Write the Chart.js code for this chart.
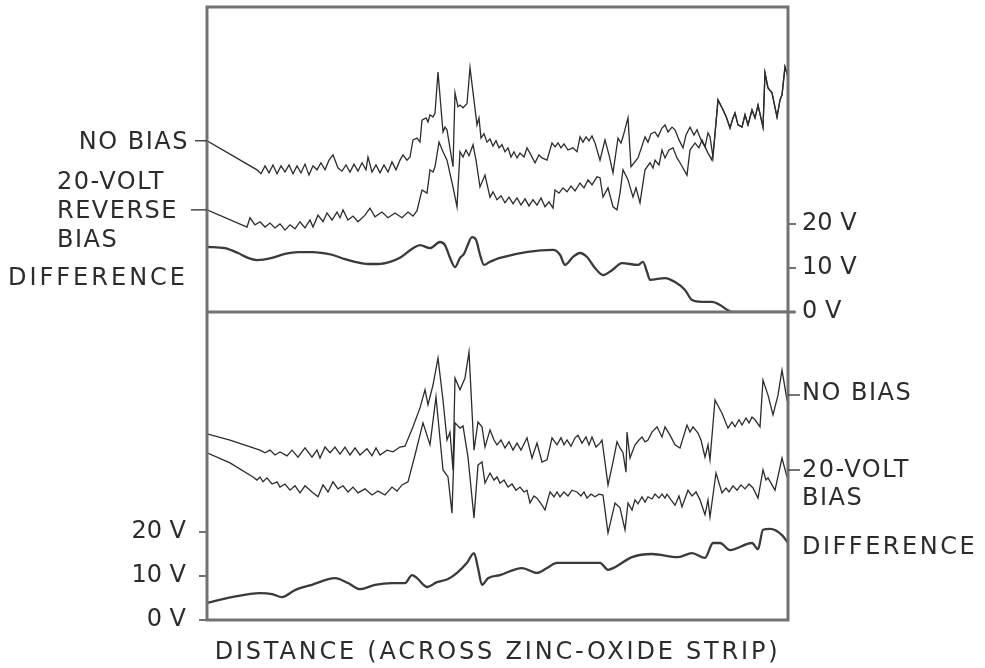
<!DOCTYPE html>
<html>
<head>
<meta charset="utf-8">
<script src="https://cdn.jsdelivr.net/npm/chart.js@4.4.1/dist/chart.umd.min.js"></script>
<style>
  html, body { margin: 0; padding: 0; background: #fff; }
  #wrap { width: 985px; height: 668px; }
</style>
</head>
<body>
<div id="wrap"><canvas id="scan" width="985" height="668"></canvas></div>
<script>
// --- data: [distance (mm), volts] ---

// upper panel (0 V on the divider)
const topNoBias = [[0,38.9],[5.0,32.3],[5.4,31.4],[5.8,33.2],[6.2,31.6],[6.6,33.4],[7.0,31.4],[7.4,33.2],[7.8,31.8],[8.2,33.4],[8.6,31.4],[9.0,33.2],[9.4,31.6],[9.8,33.6],[10.2,31.1],[10.6,33.2],[11.0,32.3],[11.4,33.9],[11.8,32.3],[12.2,34.5],[12.6,35.7],[13.1,32.7],[13.5,32.0],[13.9,33.4],[14.3,31.8],[14.7,33.6],[15.1,32.0],[15.5,33.9],[15.9,32.3],[16.1,35.2],[16.5,31.8],[16.9,33.4],[17.3,31.6],[17.7,33.4],[18.1,31.8],[18.5,34.1],[18.9,32.3],[19.3,34.5],
  [19.6,35.7],[20.0,34.5],[20.3,35.2],[20.6,39.1],[21.0,39.5],[21.3,38.6],[21.5,43.6],[21.9,44.1],[22.1,43.2],[22.3,44.8],[22.6,44.3],[22.8,45.2],[23.1,54.5],[23.6,40.9],[23.8,42.0],[24.0,41.4],[24.6,33.0],[24.8,49.8],[25.1,46.6],[25.3,47.0],[25.6,46.4],[26.0,47.3],[26.3,55.5],[27.0,42.5],[27.2,44.1],[27.4,39.5],[27.7,40.5],[28.0,38.6],[28.3,39.3],[28.6,37.7],[28.9,38.9],[29.2,37.3],[29.5,38.0],[29.8,36.4],[30.1,37.3],[30.4,35.2],[30.7,36.4],[31.0,35.0],[31.3,36.1],[31.7,35.2],[32.0,37.3],[32.3,36.1],[32.8,33.9],[33.2,35.7],[33.5,35.0],[34.0,34.5],[34.5,38.4],[34.8,37.5],[35.1,38.4],[35.4,37.3],[35.7,38.2],[36.1,36.8],[36.6,37.3],[37.0,36.4],[37.3,39.8],[37.6,38.6],[37.9,39.8],[38.2,38.9],[38.5,40.0],[38.8,38.4],
  [39.3,34.5],[39.8,39.1],[40.2,35.7],[40.6,31.6],[41.1,39.5],[41.4,38.4],[41.6,39.8],[42.1,44.1],[42.4,33.0],[43.1,35.0],[43.5,37.7],[43.8,39.8],[44.1,38.6],[44.4,40.5],[44.8,40.9],[45.1,39.8],[45.5,41.8],[45.8,42.5],[46.1,40.9],[46.5,42.0],[46.8,41.4],[47.2,39.1],[47.6,37.3],[47.9,40.2],[48.3,42.0],[48.7,40.2],[49.0,41.4],[49.4,39.1],[49.8,37.5],[50.1,40.7],[50.3,39.8],[50.6,35.2]];

const topReverse = [[0,23.2],[4.0,19.3],[4.3,21.4],[4.8,19.8],[5.3,20.5],[5.8,19.3],[6.3,20.2],[6.8,19.1],[7.3,20.0],[7.8,18.6],[8.3,19.8],[8.8,18.9],[9.3,20.5],[9.8,19.1],[10.3,20.9],[10.6,19.3],[11.1,22.0],[11.6,20.5],[12.0,22.5],[12.5,20.9],[13.0,22.7],[13.3,21.4],[13.6,23.2],[14.1,20.9],[14.6,21.8],[15.1,20.5],[15.8,22.0],[16.3,23.6],[16.8,21.6],[17.5,22.7],[18.1,21.4],[18.8,22.5],[19.5,21.4],[20.1,22.7],[20.6,21.8],[21.0,23.0],
  [21.5,27.7],[22.0,27.0],[22.3,32.3],[22.6,31.8],[22.8,33.0],[23.2,38.6],[23.6,36.4],[24.0,34.5],[24.6,28.4],[25.0,23.9],[25.3,36.4],[25.6,35.2],[25.9,36.8],[26.2,35.5],[26.6,38.0],[26.9,34.5],[27.3,28.4],[27.8,31.1],[28.3,26.1],[28.6,27.3],[29.0,25.5],[29.4,26.4],[29.8,24.8],[30.2,26.1],[30.6,24.6],[31.0,25.9],[31.4,24.3],[31.8,25.7],[32.2,24.1],[32.6,25.5],[33.0,24.3],[33.4,25.9],[33.8,23.9],[34.2,25.0],[34.6,23.6],
  [34.8,27.7],[35.2,27.0],[35.6,28.2],[36.0,27.3],[36.4,28.6],[36.8,27.5],[37.3,29.3],[37.7,28.2],[38.1,30.0],[38.5,28.9],[39.0,30.7],[39.3,30.5],[39.6,26.1],[40.1,28.2],[40.6,23.9],[41.0,23.2],[41.3,27.0],[41.6,32.3],[42.1,30.0],[42.6,26.1],[42.9,28.2],[43.3,24.8],[43.8,32.3],[44.3,33.9],[44.6,32.7],[44.8,34.5],[45.2,33.4],[45.5,36.8],[45.8,35.0],[46.2,36.8],[46.6,37.3],[47.0,35.0],[47.3,33.9],[48.0,31.1],[48.3,36.8],[48.8,38.4],[49.2,37.3],[49.5,39.1],[50.1,36.1],[50.5,34.5],[50.7,38.0]];

// both traces run together after the step near 51 mm
const topTail = [[51.1,48.2],[51.5,46.4],[51.9,44.5],[52.3,41.8],[52.6,44.1],[52.8,45.2],[53.1,42.5],[53.5,42.0],[53.8,44.8],[54.1,42.5],[54.5,45.9],[54.8,44.1],[55.1,47.0],[55.6,42.0],[55.8,54.3],[56.1,50.9],[56.5,49.8],[57.0,44.3],[57.3,48.2],[57.5,49.3],[57.8,55.7],[58.1,53.4]];

const topDifference = [[0,14.8],[1.8,14.5],[3.1,13.4],[4.1,12.3],[5.0,11.8],[6.5,12.3],[7.8,13.2],[9.1,13.6],[10.5,13.6],[12.5,13.0],[13.8,12.0],[14.8,11.4],[16.1,10.9],[17.1,10.9],[18.3,11.4],[19.3,12.3],[20.6,14.5],[21.3,15.2],[22.3,14.5],[23.3,15.9],[23.8,15.2],[24.3,12.3],[24.8,10.2],[25.3,12.3],[25.7,13.2],[26.0,14.8],[26.5,17.0],[26.9,16.4],[27.3,13.0],[27.7,10.7],[28.3,11.4],[29.3,12.3],[34.6,14.1],[35.3,13.0],[35.8,10.7],[36.6,12.5],[37.3,13.4],[38.0,12.5],[38.8,10.0],[39.6,8.4],[40.5,9.5],[41.5,11.1],[43.1,10.7],[43.6,11.4],[44.0,9.1],[44.3,7.3],[45.8,7.7],[46.8,6.8],[47.8,5.0],[48.5,2.7],[49.5,2.3],[50.5,2.3],[51.3,1.6],[52.0,0.5],[52.6,0],[58.1,0]];

// lower panel (0 V on the bottom edge)
const bottomNoBias = [[0,42.3],[2.3,40.9],[5.3,38.6],[5.8,38.0],[6.3,38.6],[6.8,37.5],[7.3,38.2],[8.0,37.3],[8.5,38.6],[9.1,37.0],[9.8,39.1],[10.5,37.0],[11.0,38.6],[11.3,36.8],[11.8,39.3],[12.3,38.0],[12.8,39.3],[13.3,37.7],[13.8,39.3],[14.3,37.5],[14.8,39.1],[15.3,37.5],[16.0,38.9],[16.5,37.3],[16.9,39.1],[17.3,37.5],[18.0,38.6],[18.6,38.2],[19.3,39.3],
  [19.8,39.5],[20.6,43.9],[21.3,48.2],[21.8,52.3],[22.1,48.9],[22.6,53.4],[23.1,59.5],[23.6,50.0],[24.0,40.9],[24.3,42.7],[24.6,34.1],[24.8,55.0],[25.3,52.3],[25.8,55.0],[26.2,60.9],[26.7,38.6],[27.1,45.0],[27.5,43.9],[27.8,39.3],[28.3,43.2],[28.7,40.9],[29.0,39.8],[29.4,40.9],[29.8,39.1],[30.2,40.5],[30.6,38.6],[31.0,40.2],[31.4,38.6],[32.0,41.4],[32.5,36.8],[33.0,40.2],[33.5,35.9],[34.0,36.4],[34.5,41.4],[35.0,39.8],[35.4,41.4],[35.7,39.8],[36.0,40.9],[36.4,39.5],[36.8,41.4],[37.1,42.0],[37.5,40.2],[37.9,41.6],[38.2,39.8],[38.5,41.6],[38.9,39.3],[39.3,40.2],
  [39.5,40.9],[40.1,30.7],[40.6,35.9],[41.0,40.5],[41.3,39.1],[41.6,38.0],[41.9,33.6],[42.0,42.7],[42.3,36.8],[42.8,39.8],[43.2,40.9],[43.5,41.6],[43.8,40.5],[44.1,40.9],[44.5,42.7],[45.0,43.9],[45.5,41.6],[45.8,43.9],[46.3,42.0],[46.8,39.8],[47.3,39.1],[48.0,44.3],[48.3,42.7],[48.6,43.9],[49.1,42.5],[49.4,40.9],[49.8,37.0],[50.1,39.8],[50.3,36.4],[50.8,50.0],[51.5,47.0],[52.1,43.6],[52.5,45.0],[52.8,43.9],[53.2,45.5],[53.5,44.3],[53.9,45.9],[54.2,44.8],[54.5,46.1],[54.8,45.5],[55.3,43.9],[55.6,54.5],[56.1,51.1],[56.6,46.6],[57.1,51.1],[57.5,56.8],[58.0,50.0],[58.1,49.5]];

const bottomBias = [[0,38.0],[2.3,35.7],[4.6,32.5],[5.0,31.8],[5.3,32.5],[5.6,31.4],[6.0,32.3],[6.5,30.9],[7.0,31.4],[7.3,30.2],[7.8,30.9],[8.3,29.5],[8.8,30.5],[9.3,28.9],[9.8,30.5],[10.5,29.1],[11.1,28.0],[11.6,30.7],[12.1,29.1],[12.6,31.4],[13.1,29.8],[13.6,30.5],[14.1,29.1],[14.6,30.2],[15.1,28.9],[15.8,29.8],[16.5,28.4],[17.1,29.3],[17.8,28.4],[18.5,30.2],[19.0,29.3],[19.5,30.7],
  [20.1,31.4],[20.8,37.5],[21.6,44.8],[22.3,39.8],[22.9,50.7],[23.6,34.1],[24.1,32.5],[24.5,24.3],[24.8,44.8],[25.3,43.6],[25.6,44.1],[26.1,37.0],[26.7,23.2],[27.1,35.2],[27.5,35.9],[27.8,31.1],[28.3,33.4],[28.7,31.8],[29.0,32.5],[29.3,31.1],[29.7,31.8],[30.1,30.2],[30.5,30.9],[30.9,29.5],[31.3,30.2],[31.7,29.1],[32.0,29.5],[32.3,26.6],[32.7,28.2],[33.0,27.7],[33.5,26.1],[33.8,25.0],[34.3,29.1],[34.7,28.0],[35.0,29.1],[35.3,28.0],[35.7,29.1],[36.1,28.2],[36.5,29.5],[37.0,29.1],[37.4,28.2],[37.7,29.1],[38.0,27.7],[38.4,28.6],[38.8,28.0],[39.2,28.6],[39.6,28.4],
  [40.1,19.8],[40.8,26.6],[41.3,25.5],[41.8,20.5],[42.1,26.6],[42.5,25.0],[42.8,27.3],[43.1,26.4],[43.5,28.0],[43.8,26.8],[44.1,28.0],[44.5,27.5],[44.8,28.6],[45.2,27.7],[45.5,28.6],[45.8,27.7],[46.0,28.6],[46.4,27.3],[46.8,26.1],[47.2,28.2],[47.5,25.7],[48.1,29.5],[48.5,28.2],[48.9,29.1],[49.3,27.3],[49.8,23.9],[50.1,27.3],[50.3,23.4],[50.9,33.4],[51.5,28.9],[51.9,30.0],[52.2,29.1],[52.6,30.5],[53.0,29.5],[53.4,30.7],[53.8,29.8],[54.2,30.9],[54.6,30.0],[55.1,27.7],[55.6,34.1],[55.9,31.8],[56.1,32.3],[56.8,29.5],[57.5,36.8],[58.0,32.5],[58.1,32.3]];

const bottomDifference = [[0,3.9],[2.5,5.2],[5.3,6.1],[6.5,5.9],[7.5,5.2],[8.8,6.8],[10.5,8.0],[12.8,9.5],[14.1,8.4],[15.3,7.0],[16.8,8.0],[18.5,8.4],[19.8,8.4],[20.5,10.2],[21.0,9.5],[22.0,7.5],[23.0,8.6],[24.1,9.3],[25.0,10.7],[26.0,13.0],[26.7,15.2],[27.1,11.8],[27.5,8.0],[28.1,9.5],[29.3,10.2],[31.5,11.8],[33.0,10.7],[34.0,11.8],[35.0,13.0],[39.3,13.0],[40.1,11.4],[40.8,12.0],[42.5,14.3],[44.5,15.0],[47.1,14.3],[48.5,15.2],[49.8,14.1],[50.6,17.5],[51.3,17.5],[52.3,15.9],[54.5,17.5],[55.1,16.1],[55.6,20.5],[56.3,20.7],[57.5,19.3],[58.1,17.5]];

// voltage ticks on the two axes
const topTicks = [0, 10, 20];
const bottomTicks = [0, 10, 20];
const xTitle = 'DISTANCE (ACROSS ZINC-OXIDE STRIP)';

// --- styling ---
const INK = '#2c2c2c';
const FRAME = '#727272';
const FONT = '"DejaVu Sans", "Liberation Sans", sans-serif';
const FONT_SIZE = 24;

function toPoints(arr) {
    return arr.map(p => ({ x: p[0], y: p[1] }));
}

function trace(data, axis, smooth) {
    return {
        data: toPoints(data),
        yAxisID: axis,
        borderColor: smooth ? '#3a3a3a' : INK,
        borderWidth: smooth ? 2.3 : 1.3,
        pointRadius: 0,
        fill: false,
        tension: smooth ? 0.4 : 0,
        cubicInterpolationMode: smooth ? 'monotone' : 'default'
    };
}

function voltAxis(position, ticks, min, max, pad, width) {
    return {
        type: 'linear',
        position: position,
        min: min,
        max: max,
        afterBuildTicks: scale => { scale.ticks = ticks.map(v => ({ value: v })); },
        afterFit: scale => {
            // fixed width, and no extra room for the tick labels above/below
            scale.width = width;
            scale.paddingTop = 0;
            scale.paddingBottom = 0;
        },
        border: { display: false },
        grid: { drawOnChartArea: false, drawTicks: true, tickLength: 8, color: FRAME, lineWidth: 2 },
        ticks: {
            padding: pad,
            color: INK,
            font: { family: FONT, size: FONT_SIZE },
            callback: v => v + ' V'
        }
    };
}

// frame, divider, trace names and the distance caption
const figureText = {
    id: 'figureText',
    afterDraw(chart) {
        const { ctx, chartArea: a, scales } = chart;
        const mid = scales.yTop.getPixelForValue(0);
        ctx.save();
        ctx.strokeStyle = FRAME;
        ctx.lineWidth = 3;
        ctx.strokeRect(a.left, a.top, a.right - a.left, a.bottom - a.top);
        ctx.beginPath();
        ctx.moveTo(a.left, mid);
        ctx.lineTo(a.right + 7, mid);
        ctx.stroke();

        ctx.fillStyle = INK;
        ctx.strokeStyle = INK;
        ctx.lineWidth = 1.3;
        ctx.font = FONT_SIZE + 'px ' + FONT;
        ctx.textBaseline = 'middle';
        const spacing = s => { if ('letterSpacing' in ctx) ctx.letterSpacing = s; };
        spacing('1.5px');

        const leader = (x1, x2, y) => {
            ctx.beginPath(); ctx.moveTo(x1, y); ctx.lineTo(x2, y); ctx.stroke();
        };

        // upper panel, left side
        const yNo = scales.yTop.getPixelForValue(topNoBias[0][1]);
        const yRev = scales.yTop.getPixelForValue(topReverse[0][1]);
        ctx.textAlign = 'right';
        ctx.fillText('NO BIAS', a.left - 18, yNo + 2);
        spacing('3px');
        ctx.fillText('DIFFERENCE', a.left - 19, yRev + 69);
        spacing('1.5px');
        ctx.textAlign = 'left';
        ctx.fillText('20-VOLT', 57, yRev - 27);
        ctx.fillText('REVERSE', 57, yRev + 2);
        ctx.fillText('BIAS', 57, yRev + 31);
        leader(a.left - 12, a.left, yNo);
        leader(a.left - 16, a.left, yRev);

        // lower panel, right side
        const rx = a.right + 14;
        ctx.fillText('NO BIAS', rx, a.bottom - 226);
        ctx.fillText('20-VOLT', rx, a.bottom - 149);
        ctx.fillText('BIAS', rx, a.bottom - 121);
        spacing('2.5px');
        ctx.fillText('DIFFERENCE', rx, a.bottom - 72);
        leader(a.right, a.right + 12, a.bottom - 225);
        leader(a.right, a.right + 12, a.bottom - 150);

        // caption under the frame
        ctx.textAlign = 'center';
        spacing('2.8px');
        ctx.fillText(xTitle, (a.left + a.right) / 2, a.bottom + 33);
        ctx.restore();
    }
};

new Chart(document.getElementById('scan'), {
    type: 'line',
    data: {
        datasets: [
            trace(topNoBias.concat(topTail), 'yTop', false),
            trace(topReverse.concat(topTail), 'yTop', false),
            trace(topDifference, 'yTop', true),
            trace(bottomNoBias, 'yBot', false),
            trace(bottomBias, 'yBot', false),
            trace(bottomDifference, 'yBot', true)
        ]
    },
    options: {
        responsive: false,
        animation: false,
        devicePixelRatio: 1,
        layout: { padding: { top: 7, bottom: 48, left: 0, right: 0 } },
        plugins: { legend: { display: false }, tooltip: { enabled: false } },
        scales: {
            x: { type: 'linear', min: 0, max: 58.1, display: false },
            yBot: voltAxis('left', bottomTicks, 0, 139.3, 13, 207),
            yTop: voltAxis('right', topTicks, -70, 69.3, 6, 197)
        }
    },
    plugins: [figureText]
});
</script>
</body>
</html>
